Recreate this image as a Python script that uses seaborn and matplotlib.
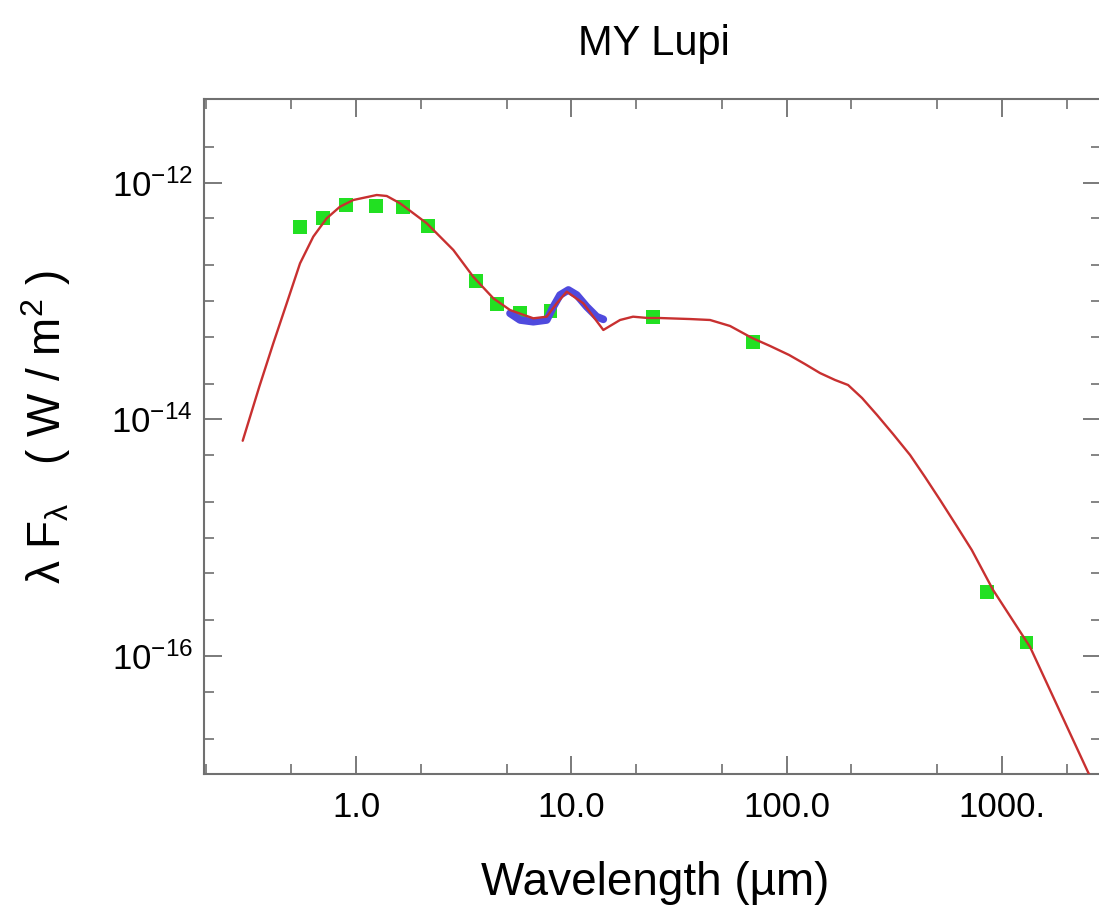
import matplotlib
matplotlib.use("Agg")
import matplotlib.pyplot as plt
import numpy as np
import pandas as pd
import seaborn as sns
from matplotlib.ticker import FixedLocator, FixedFormatter, NullFormatter

sns.set_theme(style="ticks")
plt.rcParams["font.family"] = ["Liberation Sans", "DejaVu Sans"]
plt.rcParams["text.color"] = "black"
plt.rcParams["mathtext.fontset"] = "custom"
plt.rcParams["mathtext.rm"] = "Liberation Sans"
plt.rcParams["mathtext.it"] = "Liberation Sans"
plt.rcParams["mathtext.bf"] = "Liberation Sans:bold"

# Broadband photometry (micron, W/m^2)
phot_wave = [0.55, 0.70, 0.90, 1.235, 1.65, 2.16, 3.6, 4.5, 5.8, 8.0, 24.0, 70.0, 850.0, 1300.0]
phot_flux = [4.25e-13, 5.0e-13, 6.47e-13, 6.4e-13, 6.2e-13, 4.3e-13, 1.48e-13, 9.4e-14,
             8.0e-14, 8.3e-14, 7.3e-14, 4.5e-14, 3.5e-16, 1.3e-16]

# Mid-infrared spectrum
irs_wave = [5.19, 5.78, 6.66, 7.69, 8.25, 8.86, 9.69, 10.60, 11.79, 13.12, 14.08]
irs_flux = [7.87e-14, 6.91e-14, 6.68e-14, 6.91e-14, 8.95e-14, 1.124e-13, 1.24e-13,
            1.124e-13, 8.95e-14, 7.37e-14, 7.0e-14]

# Disk model SED
model_wave = [0.2977, 0.3556, 0.4129, 0.4766, 0.5495, 0.6333, 0.7308, 0.8427, 0.9716,
              1.248, 1.389, 1.601, 2.130, 2.831, 3.506, 4.343, 5.191, 6.661, 7.687,
              8.554, 9.520, 11.37, 14.08, 16.84, 19.35, 22.72, 25.8, 35.6, 44.1, 54.6,
              69.09, 83.7, 102.6, 121.7, 142.9, 167.8, 192.9, 224.0, 263.0, 312.0, 374.4,
              439.4, 516.0, 612.0, 724.2, 909.5, 1351.0, 2511.0, 2856.0]
model_flux = [6.59e-15, 1.89e-14, 4.39e-14, 9.56e-14, 2.08e-13, 3.50e-13, 5.00e-13, 6.27e-13,
              7.14e-13, 7.87e-13, 7.72e-13, 6.70e-13, 4.54e-13, 2.70e-13, 1.60e-13, 1.054e-13,
              8.39e-14, 7.14e-14, 7.37e-14, 9.56e-14, 1.199e-13, 9.56e-14, 5.69e-14, 6.91e-14,
              7.37e-14, 7.18e-14, 7.18e-14, 7.04e-14, 6.91e-14, 6.15e-14,
              4.87e-14, 4.17e-14, 3.50e-14, 2.93e-14, 2.46e-14, 2.15e-14, 1.95e-14, 1.514e-14,
              1.087e-14, 7.51e-15, 4.99e-15, 3.25e-15, 2.08e-15, 1.278e-15, 7.86e-16,
              3.61e-16, 1.189e-16, 1.04e-17, 6.67e-18]

x_major = [1.0, 10.0, 100.0, 1000.0]
x_major_labels = ["1.0", "10.0", "100.0", "1000."]
x_minor = [0.2, 0.5, 2, 5, 20, 50, 200, 500, 2000]
y_major = [1e-12, 1e-14, 1e-16]
y_major_labels = [r"$10^{-12}$", r"$10^{-14}$", r"$10^{-16}$"]
y_minor = [2e-12, 5e-13, 2e-13, 1e-13, 5e-14, 2e-14, 5e-15, 2e-15, 1e-15,
           5e-16, 2e-16, 5e-17, 2e-17]

phot = pd.DataFrame({"wave": phot_wave, "flux": phot_flux})
irs = pd.DataFrame({"wave": irs_wave, "flux": irs_flux})
model = pd.DataFrame({"wave": model_wave, "flux": model_flux})

fig = plt.figure(figsize=(10.99, 9.15), dpi=100)
ax = fig.add_axes([204 / 1099, 1 - 774 / 915, (1101 - 204) / 1099, (774 - 98.7) / 915])

sns.scatterplot(data=phot, x="wave", y="flux", marker="s", s=100, color="#22e022",
                edgecolor="none", linewidth=0, ax=ax, zorder=2)
sns.lineplot(data=irs, x="wave", y="flux", color="#4f4ade", lw=5.5, sort=False,
             estimator=None, ax=ax, zorder=3)
sns.lineplot(data=model, x="wave", y="flux", color="#c83030", lw=1.7, sort=False,
             estimator=None, ax=ax, zorder=4)

ax.set_xscale("log")
ax.set_yscale("log")
ax.set_xlim(0.1968, 2884)
ax.set_ylim(10 ** -16.998, 10 ** -11.29)

ax.xaxis.set_major_locator(FixedLocator(x_major))
ax.xaxis.set_major_formatter(FixedFormatter(x_major_labels))
ax.xaxis.set_minor_locator(FixedLocator(x_minor))
ax.xaxis.set_minor_formatter(NullFormatter())
ax.yaxis.set_major_locator(FixedLocator(y_major))
ax.yaxis.set_major_formatter(FixedFormatter(y_major_labels))
ax.yaxis.set_minor_locator(FixedLocator(y_minor))
ax.yaxis.set_minor_formatter(NullFormatter())

spine_col = "#707070"
for sp in ax.spines.values():
    sp.set_color(spine_col)
    sp.set_linewidth(1.5)
ax.tick_params(which="both", direction="in", top=True, right=True, colors=spine_col,
               labelcolor="black")
ax.tick_params(which="major", length=13, width=1.3, labelsize=25)
ax.tick_params(which="minor", length=7, width=1.2)
ax.tick_params(axis="x", which="major", pad=12)
ax.tick_params(axis="y", which="major", pad=8)
ax.set_xlabel("")
ax.set_ylabel("")
ax.grid(False)

fig.text(654 / 1099, 1 - 55 / 915, "MY Lupi", ha="center", va="baseline", fontsize=30,
         color="black")
fig.text(655 / 1099, 1 - 895 / 915, "Wavelength (\u00b5m)", ha="center", va="baseline",
         fontsize=33, color="black")
fig.text(46 / 1099, 1 - 427 / 915, r"$\lambda\ F_{\lambda}$   ( W / m$^{2}$ )",
         rotation=90, ha="center", va="center", fontsize=33, color="black")

fig.savefig("out.png", dpi=100, facecolor="white")
